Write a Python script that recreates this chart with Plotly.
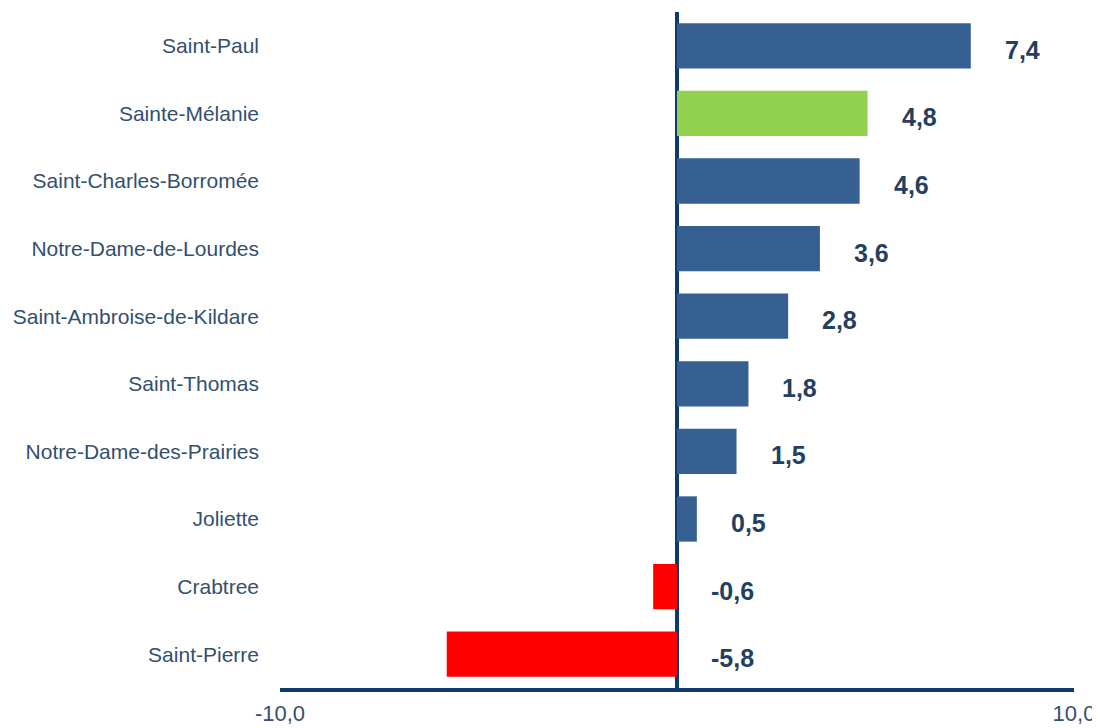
import plotly.graph_objects as go

categories = ["Saint-Paul", "Sainte-Mélanie", "Saint-Charles-Borromée", "Notre-Dame-de-Lourdes",
              "Saint-Ambroise-de-Kildare", "Saint-Thomas", "Notre-Dame-des-Prairies",
              "Joliette", "Crabtree", "Saint-Pierre"]
values = [7.4, 4.8, 4.6, 3.6, 2.8, 1.8, 1.5, 0.5, -0.6, -5.8]
highlight = "Sainte-Mélanie"
x_tick_vals = [-10, 10]
x_tick_text = ["-10,0", "10,0"]

BLUE = "#376092"
GREEN = "#92D050"
RED = "#FF0000"
NAVY = "#0F3B6C"
LABEL_NAVY = "#243F60"
TEXT = "#33506F"
FONT = "Liberation Sans, Arial, sans-serif"

colors = []
for c, v in zip(categories, values):
    if c == highlight:
        colors.append(GREEN)
    elif v < 0:
        colors.append(RED)
    else:
        colors.append(BLUE)

fig = go.Figure(go.Bar(
    x=values, y=categories, orientation="h",
    marker=dict(color=colors, line=dict(width=0)),
    width=0.67, hoverinfo="skip",
))

for c, v in zip(categories, values):
    fig.add_annotation(
        x=max(v, 0), y=c, xref="x", yref="y",
        text="<b>" + f"{v:.1f}".replace(".", ",") + "</b>",
        showarrow=False, xanchor="left", yanchor="middle",
        xshift=32, yshift=-4,
        font=dict(family=FONT, size=25, color=LABEL_NAVY),
    )

# page body has an 8px default margin; figure sized to fill the 1100x728 view
fig.update_layout(
    width=1092, height=720,
    margin=dict(l=272, r=26, t=4, b=40, autoexpand=False),
    paper_bgcolor="white", plot_bgcolor="white",
    showlegend=False,
    font=dict(family=FONT, color=TEXT),
)
fig.update_xaxes(
    range=[-10, 10], tickvals=x_tick_vals, ticktext=x_tick_text,
    showgrid=False, zeroline=True, zerolinecolor=NAVY, zerolinewidth=4,
    showline=True, linecolor=NAVY, linewidth=4,
    ticks="", ticklabelstandoff=3,
    tickfont=dict(family=FONT, size=22, color=TEXT),
    layer="above traces", fixedrange=True, automargin=False,
)
fig.update_yaxes(
    categoryorder="array", categoryarray=categories[::-1],
    showgrid=False, zeroline=False, showline=False, ticks="",
    ticklabelstandoff=20,
    tickfont=dict(family=FONT, size=21, color=TEXT),
    fixedrange=True, automargin=False,
)

fig.write_html("out.html", config={"displayModeBar": False})
